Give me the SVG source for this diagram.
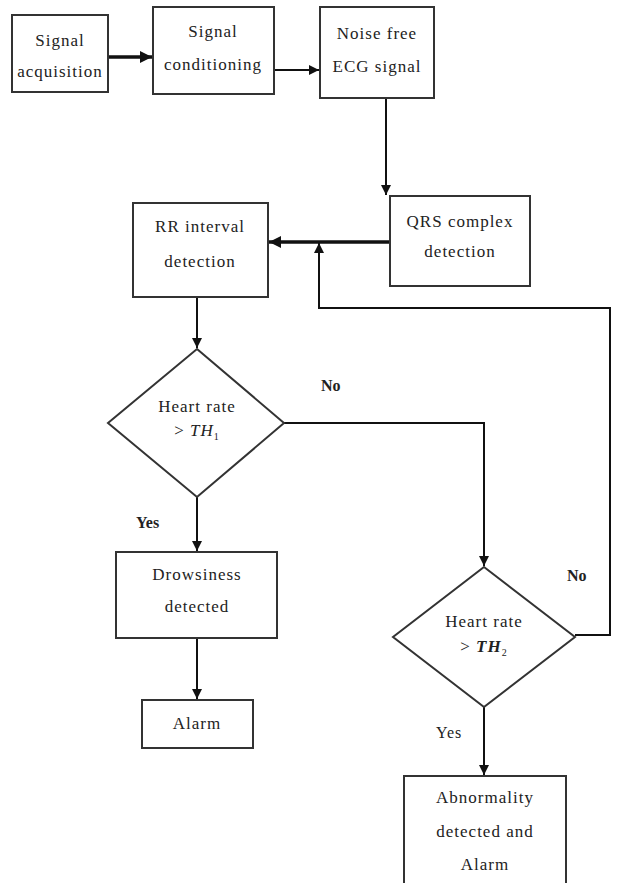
<svg xmlns="http://www.w3.org/2000/svg" width="617" height="883" viewBox="0 0 617 883">
<style>
.box{fill:#fff;stroke:#333;stroke-width:2}
.t{font-family:"Liberation Serif",serif;font-size:17px;fill:#222;text-anchor:middle;letter-spacing:1px}
.lbl{font-family:"Liberation Serif",serif;font-size:16px;fill:#222;font-weight:bold}
.c{fill:none;stroke:#111;stroke-width:2}
.ct{fill:none;stroke:#111;stroke-width:3.5}
</style>
<defs>
<marker id="ah" viewBox="0 0 10 10" refX="10" refY="5" markerWidth="5" markerHeight="5" orient="auto" markerUnits="strokeWidth">
<path d="M0,0 L10,5 L0,10 z" fill="#111"/>
</marker>
<marker id="ah2" viewBox="0 0 10 10" refX="10" refY="5" markerWidth="3.5" markerHeight="3.5" orient="auto" markerUnits="strokeWidth">
<path d="M0,0 L10,5 L0,10 z" fill="#111"/>
</marker>
</defs>
<rect width="617" height="883" fill="#fff"/>
<g id="connectors">
<line class="ct" x1="108" y1="57" x2="152" y2="57" marker-end="url(#ah2)"/>
<line class="c" x1="274" y1="70" x2="319" y2="70" marker-end="url(#ah)"/>
<line class="c" x1="386" y1="98" x2="386" y2="195" marker-end="url(#ah)"/>
<line class="ct" x1="390" y1="242" x2="269" y2="242" marker-end="url(#ah2)"/>
<polyline class="c" points="575,635 610,635 610,308 319,308 319,243" marker-end="url(#ah)"/>
<line class="c" x1="197" y1="297" x2="197" y2="348" marker-end="url(#ah)"/>
<polyline class="c" points="284,423 484,423 484,566" marker-end="url(#ah)"/>
<line class="c" x1="197" y1="497" x2="197" y2="551" marker-end="url(#ah)"/>
<line class="c" x1="197" y1="638" x2="197" y2="699" marker-end="url(#ah)"/>
<line class="c" x1="484" y1="707" x2="484" y2="775" marker-end="url(#ah)"/>
<text class="lbl" x="321" y="391">No</text>
<text class="lbl" x="567" y="581">No</text>
<text class="lbl" x="136" y="528">Yes</text>
<text class="lbl" x="436" y="738" style="font-weight:normal;letter-spacing:1px">Yes</text>
</g>
<g id="acq">
<rect class="box" x="12" y="15" width="96" height="77"/>
<text class="t" x="60" y="46">Signal</text>
<text class="t" x="60" y="77">acquisition</text>
</g>
<g id="cond">
<rect class="box" x="153" y="7" width="121" height="87"/>
<text class="t" x="213" y="37">Signal</text>
<text class="t" x="213" y="70">conditioning</text>
</g>
<g id="noise">
<rect class="box" x="320" y="7" width="114" height="91"/>
<text class="t" x="377" y="39">Noise free</text>
<text class="t" x="377" y="72">ECG signal</text>
</g>
<g id="qrs">
<rect class="box" x="390" y="196" width="140" height="90"/>
<text class="t" x="460" y="227">QRS complex</text>
<text class="t" x="460" y="257">detection</text>
</g>
<g id="rr">
<rect class="box" x="133" y="203" width="135" height="94"/>
<text class="t" x="200" y="232">RR interval</text>
<text class="t" x="200" y="267">detection</text>
</g>
<g id="hr1">
<polygon class="box" points="197,349 284,423 197,497 108,423"/>
<text class="t" x="197" y="412">Heart rate</text>
<text class="t" x="197" y="436">&gt; <tspan font-style="italic">TH</tspan><tspan font-size="10" dy="4">1</tspan></text>
</g>
<g id="drowsy">
<rect class="box" x="116" y="552" width="161" height="86"/>
<text class="t" x="197" y="580">Drowsiness</text>
<text class="t" x="197" y="612">detected</text>
</g>
<g id="alarm">
<rect class="box" x="142" y="700" width="111" height="48"/>
<text class="t" x="197" y="729">Alarm</text>
</g>
<g id="hr2">
<polygon class="box" points="484,567 575,637 484,707 393,637"/>
<text class="t" x="484" y="627">Heart rate</text>
<text class="t" x="484" y="652">&gt; <tspan font-style="italic" font-weight="bold">TH</tspan><tspan font-size="10" dy="4">2</tspan></text>
</g>
<g id="abn">
<rect class="box" x="404" y="776" width="162" height="120"/>
<text class="t" x="485" y="803">Abnormality</text>
<text class="t" x="485" y="837">detected and</text>
<text class="t" x="485" y="870">Alarm</text>
</g>
</svg>
